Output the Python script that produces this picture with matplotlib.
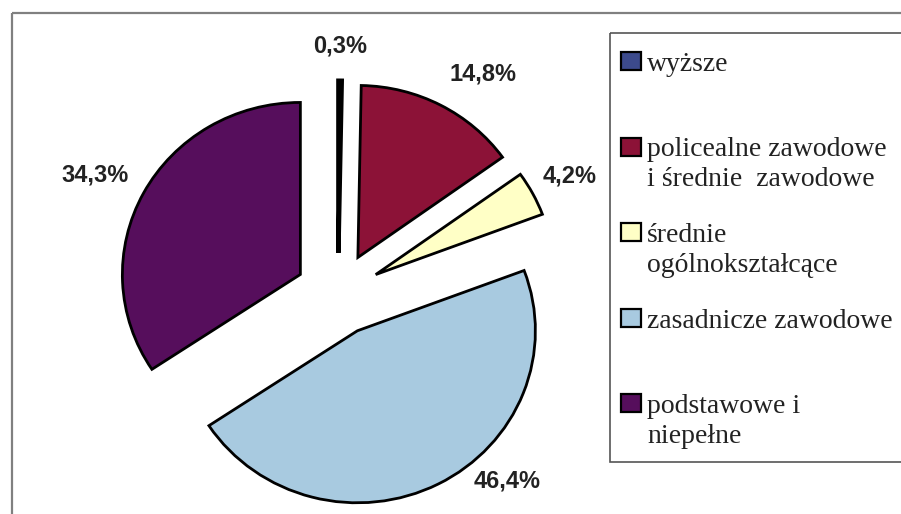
import numpy as np
import matplotlib.pyplot as plt
from matplotlib.patches import Rectangle

# dane
categories = ['wyższe',
              'policealne zawodowe\ni średnie  zawodowe',
              'średnie\nogólnokształcące',
              'zasadnicze zawodowe',
              'podstawowe i\nniepełne']
shares = [0.3, 14.8, 4.2, 46.4, 34.3]
pct_labels = ['0,3%', '14,8%', '4,2%', '46,4%', '34,3%']

colors = ['#3c4a8c', '#8c1237', '#ffffc6', '#a8cae0', '#560e5c']
# położenie etykiet: odległość od środka wycinka i przesunięcie kąta
label_r = [1.2, 1.28, 1.23, 1.21, 1.29]
label_dtheta = [0, -5.7, -0.4, 16.9, 1.7]
explode_frac = 0.24

W, H = 901, 514
fig = plt.figure(figsize=(W / 100, H / 100), dpi=100)
fig.patch.set_facecolor('white')

ax = fig.add_axes([0, 0, 1, 1])
wedges, _ = ax.pie(shares, colors=colors, startangle=90, counterclock=False,
                   explode=[explode_frac] * len(shares),
                   wedgeprops=dict(edgecolor='black', linewidth=2.0))
# cienki wycinek wygląda w oryginale jak gruba kreska
wedges[0].set_linewidth(3.2)

# lekko rozciągnięty poziomo wykres (jak w oryginale)
cx, cy = 338, 294      # środek koła w pikselach
rx, ry = 178, 172      # promień w pikselach
ax.set_aspect('auto')
ax.set_xlim(-cx / rx, (W - cx) / rx)
ax.set_ylim(-(H - cy) / ry, cy / ry)
ax.axis('off')

for w, txt, r, dt in zip(wedges, pct_labels, label_r, label_dtheta):
    m = np.deg2rad((w.theta1 + w.theta2) / 2)
    ox, oy = w.center
    a = m + np.deg2rad(dt)
    ax.text(ox + r * np.cos(a), oy + r * np.sin(a), txt,
            ha='center', va='center', fontsize=17, fontweight='bold',
            family=['Liberation Sans', 'DejaVu Sans'], color='#222222')

# ramka i legenda (współrzędne w pikselach)
lax = fig.add_axes([0, 0, 1, 1], facecolor='none')
lax.set_xlim(0, W)
lax.set_ylim(H, 0)
lax.axis('off')

lax.add_patch(Rectangle((12, 13), W, H, fill=False, edgecolor='#808080', lw=1.6))
lax.add_patch(Rectangle((610, 33), 300, 429, fill=False, edgecolor='#555555', lw=1.2))

base0, step, line_h = 71, 85.5, 30
for i, (lab, col) in enumerate(zip(categories, colors)):
    b = base0 + i * step
    lax.add_patch(Rectangle((621, b - 19), 20, 18, facecolor=col,
                            edgecolor='black', lw=1.6))
    for j, line in enumerate(lab.split('\n')):
        lax.text(647, b + j * line_h, line, ha='left', va='baseline',
                 fontsize=20, family=['Liberation Serif', 'DejaVu Serif'],
                 color='#222222')

fig.savefig('out.png', dpi=100)
